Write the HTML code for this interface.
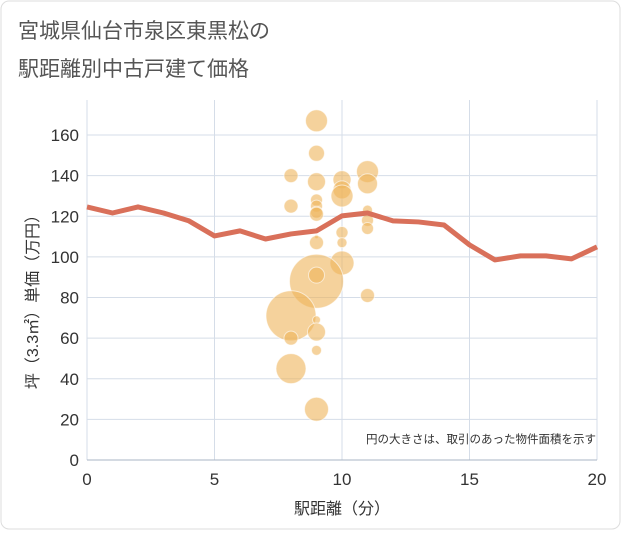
<!DOCTYPE html>
<html><head><meta charset="utf-8"><style>
body{margin:0;background:#fff;}
svg text{font-family:"Liberation Sans","Noto Sans CJK JP",sans-serif;}
</style></head><body>
<svg id="chart" width="621" height="530" xmlns="http://www.w3.org/2000/svg">
<rect x="1" y="1" width="619" height="528" rx="8" fill="#fff" stroke="#ddd"/>
<text x="18" y="38" font-size="21" fill="#555">宮城県仙台市泉区東黒松の</text>
<text x="18" y="76" font-size="21" fill="#555">駅距離別中古戸建て価格</text>
<g id="grid"></g>
<g id="bubbles"></g>
<g id="line"></g>
<g id="axes"></g>
<text x="596" y="443" font-size="11.5" fill="#333" text-anchor="end">円の大きさは、取引のあった物件面積を示す</text>
<text x="342" y="514" font-size="16" fill="#333" text-anchor="middle">駅距離（分）</text>
<text transform="translate(38,298) rotate(-90)" font-size="16" fill="#333" text-anchor="middle">坪（3.3㎡）単価（万円）</text>
</svg>
<script>
const xTicks=[0,5,10,15,20];
const yTicks=[0,20,40,60,80,100,120,140,160];
const lineX=[0,1,2,3,4,5,6,7,8,9,10,11,12,13,14,15,16,17,18,19,20];
const lineY=[124.6,121.6,124.6,121.6,117.7,110.3,112.8,108.8,111.3,112.8,120.2,121.6,117.7,117.2,115.7,105.9,98.5,100.5,100.5,99,104.9];
const bubX=[9,9,8,9,10,11,11,10,10,8,9,9,9,9,11,11,11,9,9,10,10,10,9,9,11,8,9,9,8,9,8,9];
const bubY=[167,151,140,137,138,142,136,133,130,125,128,125,122,121,123,118,114,110,107,112,107,97,88,91,81,71,69,63,60,54,45,25];
const bubR=[11,8,7,9,9,11,10,9,11,7,6,6,6,7,5,6,6,2,7,6,5,12,27,8,7,25,4,9,7,5,15,12];
const L=87,R=597,T=100,B=460;
const sx=v=>L+(v-0)/(20-0)*(R-L);
const sy=v=>B-v/160*(B-135);
const NS="http://www.w3.org/2000/svg";
function mk(tag,parent,attrs){const e=document.createElementNS(NS,tag);for(const k in attrs)e.setAttribute(k,attrs[k]);parent.appendChild(e);return e;}
const grid=document.getElementById('grid'),axes=document.getElementById('axes');
yTicks.forEach(t=>{
 const g=mk('line',grid,{x1:L,x2:R,y1:sy(t),y2:sy(t),stroke:'#d5dde8','stroke-width':1});
 
 
 const tx=mk('text',axes,{x:L-8,y:sy(t)+6,'font-size':17,fill:'#333','text-anchor':'end'});
 tx.textContent=t;
 
 
});
xTicks.forEach(t=>{
 const g=mk('line',grid,{x1:sx(t),x2:sx(t),y1:T,y2:B,stroke:'#d5dde8','stroke-width':1});
 
 
 const tx=mk('text',axes,{x:sx(t),y:B+25,'font-size':17,fill:'#333','text-anchor':'middle'});
 tx.textContent=t;
 
 
});
const bl=mk('line',axes,{x1:L,x2:R,y1:B,y2:B,stroke:'#aab5c5','stroke-width':1});


const bg=document.getElementById('bubbles');
bubX.forEach((x,i)=>{
 const c=mk('circle',bg,{cx:sx(x),cy:sy(bubY[i]),r:bubR[i],fill:'rgba(238,180,90,0.6)',stroke:'rgba(255,255,255,0.6)','stroke-width':1});
 
 
});
const pts=lineX.map((x,i)=>sx(x)+','+sy(lineY[i])).join(' ');
const pl=mk('polyline',document.getElementById('line'),{points:pts,fill:'none',stroke:'#d9705a','stroke-width':5,'stroke-linejoin':'round'});


</script>
</body></html>
